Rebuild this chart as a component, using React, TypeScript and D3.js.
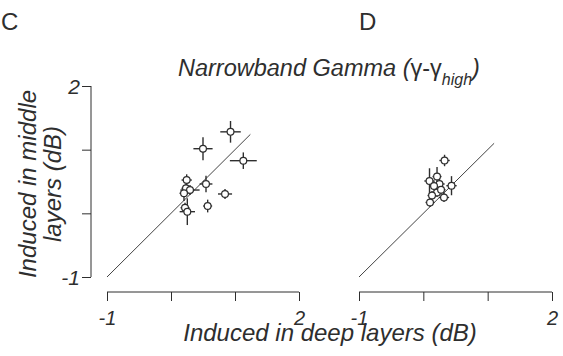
import React, { useEffect, useRef } from 'react';
import * as d3 from 'd3';

// deep (x) vs middle (y) layer induced power, dB, with SEM error bars
const leftX = [0.93, 0.5, 1.13, 0.245, 0.234, 0.297, 0.203, 0.547, 0.844, 0.573, 0.219, 0.255];
const leftY = [1.28, 1.015, 0.827, 0.523, 0.393, 0.366, 0.315, 0.461, 0.304, 0.115, 0.088, 0.026];
const leftXErr = [0.16, 0.15, 0.21, 0.08, 0.07, 0.15, 0.07, 0.1, 0.11, 0.07, 0.07, 0.12];
const leftYErr = [0.17, 0.18, 0.13, 0.09, 0.07, 0.08, 0.12, 0.13, 0.08, 0.1, 0.08, 0.21];

const rightX = [0.33, 0.213, 0.096, 0.251, 0.166, 0.438, 0.213, 0.135, 0.321, 0.104, 0.275];
const rightY = [0.83, 0.578, 0.508, 0.461, 0.429, 0.434, 0.327, 0.28, 0.249, 0.171, 0.37];
const rightXErr = [0.08, 0.07, 0.08, 0.08, 0.07, 0.08, 0.07, 0.07, 0.08, 0.07, 0.07];
const rightYErr = [0.09, 0.15, 0.2, 0.08, 0.07, 0.15, 0.07, 0.07, 0.07, 0.07, 0.07];

const xTicks = [-1, 0, 1, 2];
const yTicks = [-1, 0, 1, 2];
const tickLabels = [-1, 2];
const diagEnds = [1.24, 1.1];

const INK = '#2e2e2e';
const FONT = '"Liberation Sans", Arial, Helvetica, sans-serif';

const App = () => {
    const svgRef = useRef(null);

    useEffect(() => {
        const svg = d3.select(svgRef.current);
        svg.selectAll('*').remove();

        const y = d3.scaleLinear().domain([-1, 2]).range([277, 86]);
        const xLeft = d3.scaleLinear().domain([-1, 2]).range([107, 299]);
        const xRight = d3.scaleLinear().domain([-1, 2]).range([359, 552]);

        // y axis (left panel only)
        const yAxis = svg.append('g').attr('transform', 'translate(91,0)')
            .call(d3.axisLeft(y).tickValues(yTicks).tickSize(9).tickFormat(() => ''));
        yAxis.select('.domain').attr('d', `M0,${y(-1)}V${y(2)}`).attr('stroke', INK);
        yAxis.selectAll('.tick line').attr('stroke', INK);
        yAxis.selectAll('.tick').filter(d => tickLabels.includes(d)).append('text')
            .attr('x', -11).attr('dy', '0.36em').attr('text-anchor', 'end')
            .attr('fill', INK).attr('font-size', 21).attr('font-style', 'italic')
            .attr('font-family', FONT).text(d => d);

        const panels = [
            { x: xLeft, xs: leftX, ys: leftY, xe: leftXErr, ye: leftYErr, diag: diagEnds[0] },
            { x: xRight, xs: rightX, ys: rightY, xe: rightXErr, ye: rightYErr, diag: diagEnds[1] },
        ];

        panels.forEach(p => {
            const xAxis = svg.append('g').attr('transform', 'translate(0,292)')
                .call(d3.axisBottom(p.x).tickValues(xTicks).tickSize(9).tickFormat(() => ''));
            xAxis.select('.domain').attr('d', `M${p.x(-1)},0H${p.x(2)}`).attr('stroke', INK);
            xAxis.selectAll('.tick line').attr('stroke', INK);
            xAxis.selectAll('.tick').filter(d => tickLabels.includes(d)).append('text')
                .attr('y', 33).attr('text-anchor', 'middle')
                .attr('fill', INK).attr('font-size', 20).attr('font-style', 'italic')
                .attr('font-family', FONT).text(d => d);

            // identity line
            svg.append('line')
                .attr('x1', p.x(-1)).attr('y1', y(-1))
                .attr('x2', p.x(p.diag)).attr('y2', y(p.diag))
                .attr('stroke', INK).attr('stroke-width', 0.9);

            const pts = p.xs.map((v, i) => ({ x: v, y: p.ys[i], xe: p.xe[i], ye: p.ye[i] }));
            const g = svg.append('g');
            g.selectAll('.h').data(pts).enter().append('line')
                .attr('x1', d => p.x(d.x - d.xe)).attr('x2', d => p.x(d.x + d.xe))
                .attr('y1', d => y(d.y)).attr('y2', d => y(d.y))
                .attr('stroke', INK).attr('stroke-width', 1.4);
            g.selectAll('.v').data(pts).enter().append('line')
                .attr('x1', d => p.x(d.x)).attr('x2', d => p.x(d.x))
                .attr('y1', d => y(d.y - d.ye)).attr('y2', d => y(d.y + d.ye))
                .attr('stroke', INK).attr('stroke-width', 1.4);
            g.selectAll('circle').data(pts).enter().append('circle')
                .attr('cx', d => p.x(d.x)).attr('cy', d => y(d.y)).attr('r', 3.4)
                .attr('fill', 'white').attr('stroke', INK).attr('stroke-width', 1.2);
        });

        // panel letters
        [['C', 1], ['D', 359]].forEach(([t, x]) => {
            svg.append('text').attr('x', x).attr('y', 30)
                .attr('font-size', 24).attr('font-family', FONT).attr('fill', INK).text(t);
        });

        // title
        const title = svg.append('text').attr('x', 178).attr('y', 76)
            .attr('font-size', 23.5).attr('font-style', 'italic')
            .attr('font-family', FONT).attr('fill', INK);
        title.append('tspan').text('Narrowband Gamma (');
        title.append('tspan').attr('font-style', 'normal').text('γ-γ');
        title.append('tspan').attr('font-size', 16).attr('dy', 9).text('high');
        title.append('tspan').attr('dy', -9).text(')');

        // axis titles
        svg.append('text').attr('x', 330).attr('y', 341)
            .attr('text-anchor', 'middle').attr('font-size', 24).attr('font-style', 'italic')
            .attr('font-family', FONT).attr('fill', INK)
            .text('Induced in deep layers (dB)');
        const yt = svg.append('text')
            .attr('transform', 'translate(36,184) rotate(-90)')
            .attr('text-anchor', 'middle').attr('font-size', 24).attr('font-style', 'italic')
            .attr('font-family', FONT).attr('fill', INK);
        yt.append('tspan').attr('x', 0).attr('y', 0).text('Induced in middle');
        yt.append('tspan').attr('x', 0).attr('y', 25).text('layers (dB)');
    }, []);

    return (
        <svg ref={svgRef} width={563} height={356}
            style={{ position: 'absolute', left: 0, top: 0, background: 'white' }} />
    );
};

export default App;
